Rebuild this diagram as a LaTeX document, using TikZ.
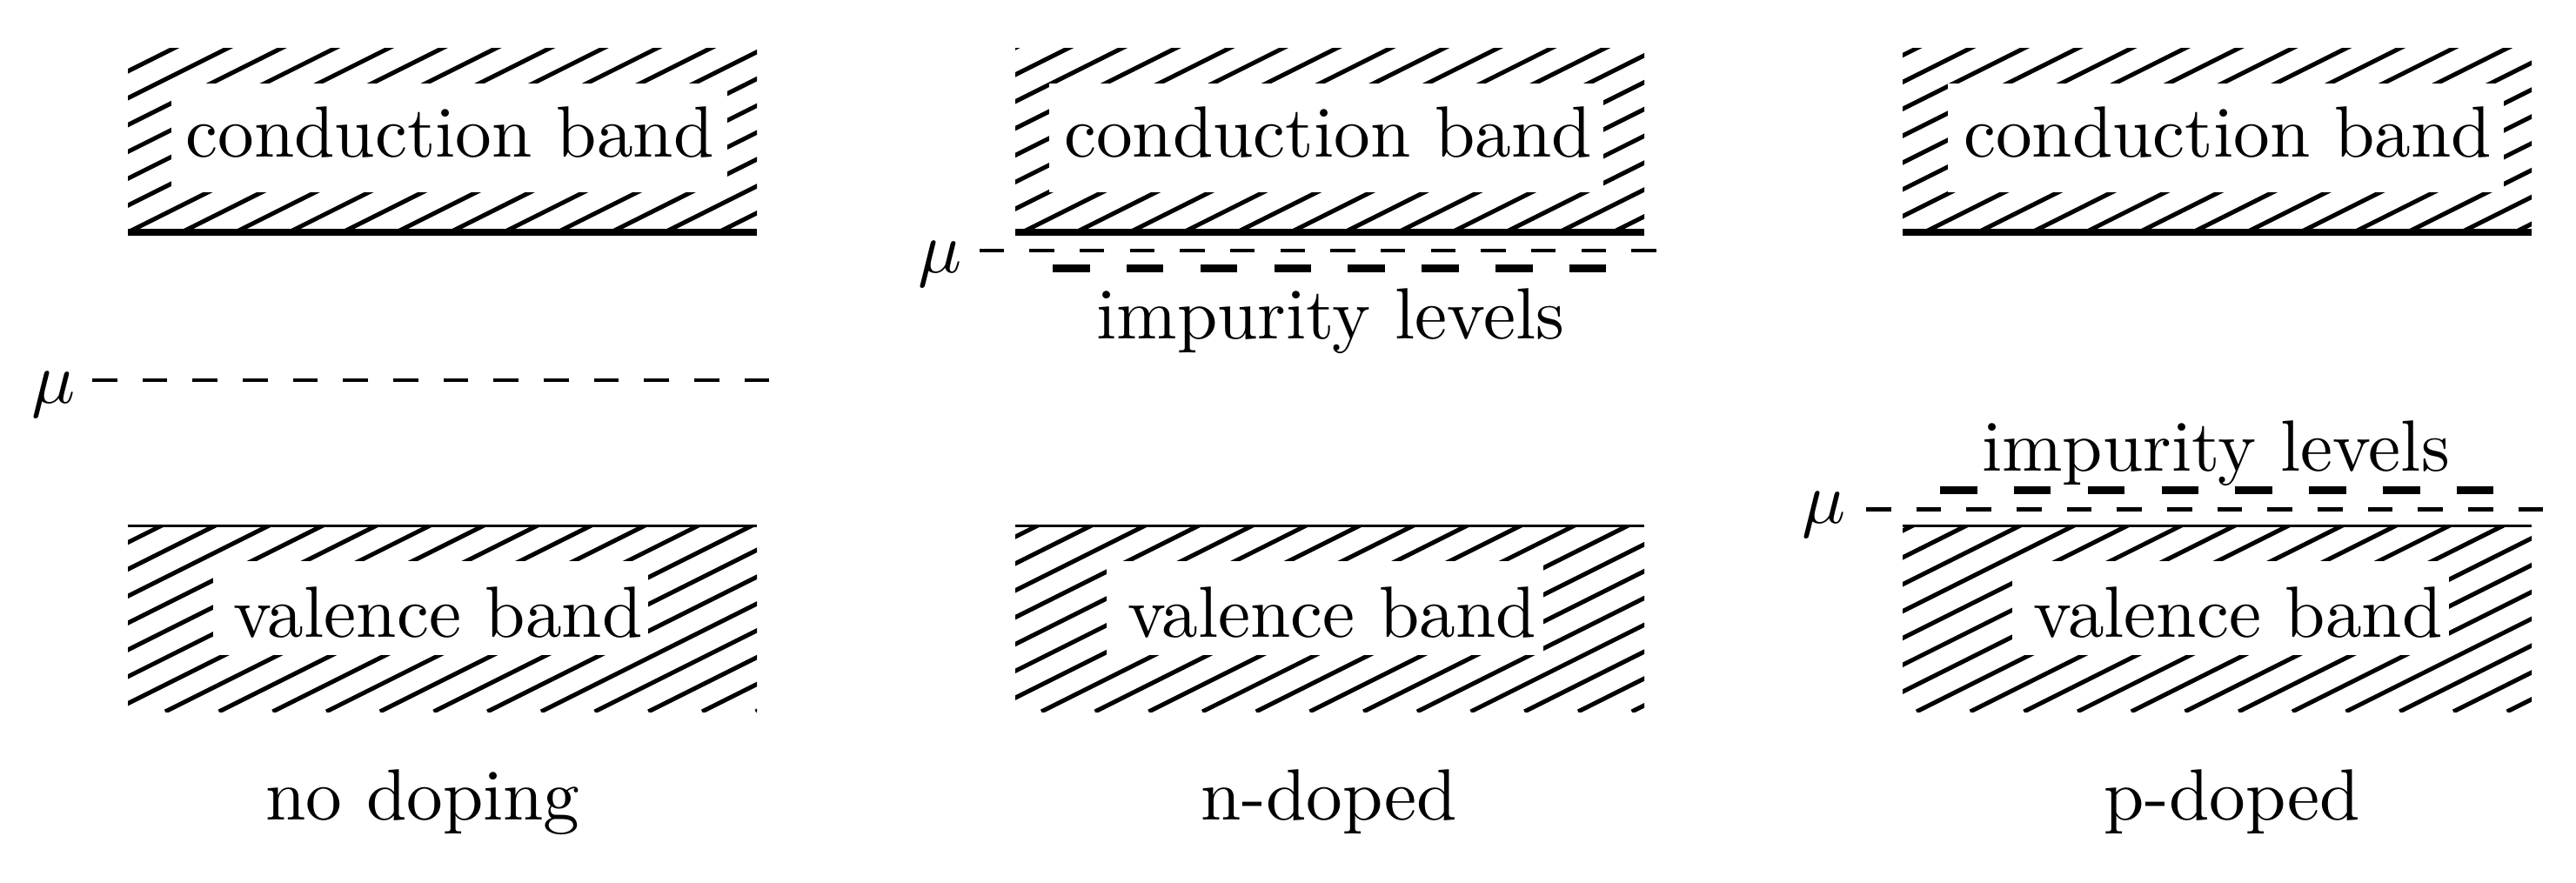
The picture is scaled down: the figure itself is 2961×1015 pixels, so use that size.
\documentclass[tikz,border=0pt]{standalone}
\tikzset{
  hatch/.style={line width=0.6pt},
  bandedge/.style={line width=0.88pt},
  valedge/.style={line width=0.4pt},
  mudash/.style={line width=0.5pt, dash pattern=on 3.43pt off 3.49pt},
  impdash/.style={line width=1pt, dash pattern=on 5.1pt off 5.08pt},
  lbl/.style={anchor=base, inner sep=0pt},
  blank/.style={fill=white, draw=none},
}
% #1 left x, #2 top y, #3 bottom y, #4 phase offset
\newcommand{\hatchedband}[4]{%
  \begin{scope}
    \clip (#1,#2) rectangle ({#1+723},#3);
    \foreach \k in {-9,...,13} {
      \draw[hatch] ({#1+#4+\k*61.7},#3) -- ++(460,-230);
    }
  \end{scope}}
\begin{document}
\begin{tikzpicture}[x=0.12pt,y=-0.12pt]
\useasboundingbox (0,0) rectangle (2961,1015);

% ---------------- panel 1: no doping ----------------
\hatchedband{147}{55}{267}{0}
\fill[blank] (197,96) rectangle (836,221);
\node[lbl] (cb1) at (517,181) {conduction band};
\draw[bandedge] (147,267) -- (870,267);

\hatchedband{147}{604.5}{818}{43}
\fill[blank] (245,645) rectangle (745,753);
\node[lbl] (vb1) at (503.5,732.5) {valence band};
\draw[valedge] (147,604.5) -- (870,604.5);

\coordinate (m1s) at (106,437);
\coordinate (m1e) at (885,437);
\draw[mudash] (m1s) -- (m1e);
\node[lbl] (mu1) at (62,463) {$\mu$};

\node[lbl] (lab1) at (486,942) {no doping};

% ---------------- panel 2: n-doped ----------------
\hatchedband{1167}{55}{267}{8}
\fill[blank] (1205.5,96) rectangle (1843,221);
\node[lbl] (cb2) at (1526.5,181) {conduction band};
\draw[bandedge] (1167,267) -- (1890,267);

\hatchedband{1167}{604.5}{818}{30}
\fill[blank] (1272,645) rectangle (1773.5,753);
\node[lbl] (vb2) at (1531,732.5) {valence band};
\draw[valedge] (1167,604.5) -- (1890,604.5);

\coordinate (m2s) at (1125.5,288);
\coordinate (m2e) at (1904,288);
\draw[mudash] (m2s) -- (m2e);
\node[lbl] (mu2) at (1081,313) {$\mu$};

\coordinate (i2s) at (1210,308.5);
\coordinate (i2e) at (1849,308.5);
\draw[impdash] (i2s) -- (i2e);
\node[lbl] (imp2) at (1529.5,389.5) {impurity levels};

\node[lbl] (lab2) at (1528,942) {n-doped};

% ---------------- panel 3: p-doped ----------------
\hatchedband{2187}{55}{267}{25}
\fill[blank] (2239,96) rectangle (2877.5,221);
\node[lbl] (cb3) at (2560.5,181) {conduction band};
\draw[bandedge] (2187,267) -- (2910,267);

\hatchedband{2187}{604.5}{818}{16}
\fill[blank] (2313,645) rectangle (2815,753);
\node[lbl] (vb3) at (2572.6,732.5) {valence band};
\draw[valedge] (2187,604.5) -- (2910,604.5);

\coordinate (m3s) at (2145,585.5);
\coordinate (m3e) at (2924,585.5);
\draw[mudash] (m3s) -- (m3e);
\node[lbl] (mu3) at (2097,601) {$\mu$};

\coordinate (i3s) at (2230,563.5);
\coordinate (i3e) at (2869,563.5);
\draw[impdash] (i3s) -- (i3e);
\node[lbl] (imp3) at (2547,541) {impurity levels};

\node[lbl] (lab3) at (2566,942) {p-doped};
\end{tikzpicture}
\end{document}
